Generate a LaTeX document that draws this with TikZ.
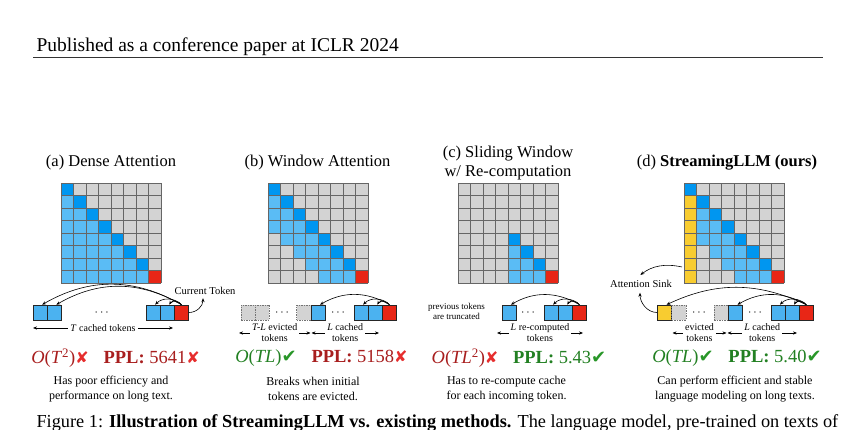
\documentclass[tikz,border=0pt]{standalone}
\usepackage{fontspec}
\setmainfont{Liberation Serif}
\newfontfamily\markfont{DejaVu Sans}
\usepackage{tikz}
\usetikzlibrary{arrows.meta}

\definecolor{attdark}{RGB}{0,150,240}
\definecolor{attlight}{RGB}{90,188,245}
\definecolor{attgray}{RGB}{211,211,211}
\definecolor{attred}{RGB}{232,38,22}
\definecolor{sinkyellow}{RGB}{248,204,48}
\definecolor{tokblue}{RGB}{75,178,240}
\definecolor{badred}{RGB}{168,30,30}
\definecolor{goodgreen}{RGB}{34,128,34}
\definecolor{xred}{RGB}{230,45,45}
\definecolor{vgreen}{RGB}{40,150,40}

\newcommand{\badmark}{{\markfont\fontsize{16}{16}\selectfont\color{xred}✘}}
\newcommand{\goodmark}{{\markfont\fontsize{18}{18}\selectfont\color{vgreen}✔}}

\begin{document}
\begin{tikzpicture}[x=1pt, y=1pt,
  tokbox/.style={draw=black!85, line width=0.6pt, minimum width=14.2pt, minimum height=15pt, inner sep=0pt, fill=tokblue},
  curbox/.style={tokbox, fill=attred},
  sinkbox/.style={tokbox, fill=sinkyellow},
  evictbox/.style={tokbox, fill=attgray, draw=black!55, dash pattern=on 1.5pt off 1pt},
  dotsnode/.style={font=\fontsize{12}{12}\selectfont},
  arcarrow/.style={-{Stealth[length=4pt,width=3.2pt]}, line width=0.6pt},
  spanarrow/.style={{Stealth[length=4pt,width=3.2pt]}-{Stealth[length=4pt,width=3.2pt]}, line width=0.6pt},
  spanlabel/.style={fill=white, inner xsep=2pt, inner ysep=0.5pt, align=center, font=\fontsize{10}{11}\selectfont},
  paneltitle/.style={anchor=base, font=\fontsize{16.5}{19}\selectfont},
  costline/.style={font=\fontsize{18.5}{20}\selectfont},
  descr/.style={align=center, font=\fontsize{12}{15.5}\selectfont},
  smalllab/.style={font=\fontsize{10.5}{11}\selectfont},
  gridln/.style={draw=black!60, line width=0.5pt}
]
\useasboundingbox (0,0) rectangle (850,430);

% page header
\node[anchor=base west, font=\fontsize{19.5}{20}\selectfont] (hdr) at (33,378) {Published as a conference paper at ICLR 2024};
\draw[line width=0.8pt, black!80] (33,372.5) -- (823,372.5);

% titles
\node[paneltitle] (ta) at (111,263) {(a) Dense Attention};
\node[paneltitle] (tb) at (317.5,263) {(b) Window Attention};
\node[paneltitle] (tc1) at (508,272) {(c) Sliding Window};
\node[paneltitle] (tc2) at (508,253) {w/ Re-computation};
\node[paneltitle] (td) at (727,263) {(d) \textbf{StreamingLLM (ours)}};

% attention maps
\foreach \gx in {61,268,458,684} \fill[attgray] (\gx,147) rectangle ++(100,100);
% (a) dense
\foreach \i in {1,...,7} \foreach \j in {1,...,\i} \fill[attlight] ({61+12.5*(\j-1)},{247-12.5*(\i+1)}) rectangle ++(12.5,12.5);
\foreach \i in {0,...,6} \fill[attdark] ({61+12.5*\i},{247-12.5*(\i+1)}) rectangle ++(12.5,12.5);
\fill[attred] (148.5,147) rectangle ++(12.5,12.5);
% (b) window
\foreach \i in {1,...,7} {
  \foreach \d in {1,2,3} {
    \pgfmathtruncatemacro{\jj}{\i-\d}
    \ifnum\jj>-1 \fill[attlight] ({268+12.5*\jj},{247-12.5*(\i+1)}) rectangle ++(12.5,12.5); \fi
  }
}
\foreach \i in {0,...,6} \fill[attdark] ({268+12.5*\i},{247-12.5*(\i+1)}) rectangle ++(12.5,12.5);
\fill[attred] (355.5,147) rectangle ++(12.5,12.5);
% (c) re-computation
\foreach \i/\j in {5/4,6/4,6/5,7/4,7/5,7/6} \fill[attlight] ({458+12.5*\j},{247-12.5*(\i+1)}) rectangle ++(12.5,12.5);
\foreach \i in {4,5,6} \fill[attdark] ({458+12.5*\i},{247-12.5*(\i+1)}) rectangle ++(12.5,12.5);
\fill[attred] (545.5,147) rectangle ++(12.5,12.5);
% (d) streamingllm
\foreach \i in {1,...,7} \fill[sinkyellow] (684,{247-12.5*(\i+1)}) rectangle ++(12.5,12.5);
\foreach \i in {2,...,7} {
  \foreach \d in {1,2,3} {
    \pgfmathtruncatemacro{\jj}{\i-\d}
    \ifnum\jj>0 \fill[attlight] ({684+12.5*\jj},{247-12.5*(\i+1)}) rectangle ++(12.5,12.5); \fi
  }
}
\foreach \i in {0,...,6} \fill[attdark] ({684+12.5*\i},{247-12.5*(\i+1)}) rectangle ++(12.5,12.5);
\fill[attred] (771.5,147) rectangle ++(12.5,12.5);
\foreach \gx in {61,268,458,684} {
  \foreach \k in {0,...,8} {
    \draw[gridln] ({\gx+12.5*\k},147) -- ++(0,100);
    \draw[gridln] (\gx,{147+12.5*\k}) -- ++(100,0);
  }
}

% (a) kv cache
\node[tokbox] (a1) at (40.1,117.5) {};
\node[tokbox] (a2) at (54.3,117.5) {};
\node[dotsnode] (adots) at (101.7,117.5) {$\cdots$};
\node[tokbox] (a3) at (153.1,117.5) {};
\node[tokbox] (a4) at (167.3,117.5) {};
\node[curbox] (acur) at (181.5,117.5) {};
\node[smalllab] (curlab) at (205,139) {Current Token};
\draw[arcarrow] (acur.north) to[bend right=30] ([xshift=2pt]a1.north);
\draw[arcarrow] (acur.north) to[bend right=30] ([xshift=2pt]a2.north);
\draw[arcarrow] (acur.north) to[bend right=45] ([xshift=2pt]a3.north);
\draw[arcarrow] (acur.north) to[bend right=60] ([xshift=2pt]a4.north);
\draw[arcarrow] (acur.east) to[out=0,in=-90] ([xshift=-2pt]curlab.south);
\coordinate (aL) at (33,102);
\coordinate (aR) at (173,102);
\draw[spanarrow] (aL) -- (aR) node[midway, spanlabel] {\textit{T} cached tokens};

% (b) kv cache
\node[evictbox] (b1) at (248.1,117.5) {};
\node[evictbox] (b2) at (262.3,117.5) {};
\node[dotsnode] (bdots1) at (282,117.5) {$\cdots$};
\node[evictbox] (b3) at (303.8,117.5) {};
\node[tokbox] (b4) at (318,117.5) {};
\node[dotsnode] (bdots2) at (338,117.5) {$\cdots$};
\node[tokbox] (b5) at (361.1,117.5) {};
\node[tokbox] (b6) at (375.3,117.5) {};
\node[curbox] (bcur) at (389.5,117.5) {};
\draw[arcarrow] (bcur.north) to[bend right=30] ([xshift=2pt]b4.north);
\draw[arcarrow] (bcur.north) to[bend right=45] ([xshift=2pt]b5.north);
\draw[arcarrow] (bcur.north) to[bend right=60] ([xshift=2pt]b6.north);
\coordinate (bL1) at (239,97);
\coordinate (bR1) at (310.5,97);
\coordinate (bL2) at (311.5,97);
\coordinate (bR2) at (379,97);
\draw[spanarrow] (bL1) -- (bR1) node[midway, spanlabel] {\textit{T-L} evicted\\tokens};
\draw[spanarrow] (bL2) -- (bR2) node[midway, spanlabel] {\textit{L} cached\\tokens};

% (c) kv cache
\node[align=center, font=\fontsize{9}{10}\selectfont] (trunc) at (456.5,118.5) {previous tokens\\are truncated};
\node[tokbox] (c1) at (508.9,117.5) {};
\node[dotsnode] (cdots) at (528,117.5) {$\cdots$};
\node[tokbox] (c2) at (551.1,117.5) {};
\node[tokbox] (c3) at (565.3,117.5) {};
\node[curbox] (ccur) at (579.5,117.5) {};
\draw[arcarrow] (ccur.north) to[bend right=30] ([xshift=2pt]c1.north);
\draw[arcarrow] (ccur.north) to[bend right=45] ([xshift=2pt]c2.north);
\draw[arcarrow] (ccur.north) to[bend right=60] ([xshift=2pt]c3.north);
\coordinate (cL) at (497,97);
\coordinate (cR) at (583,97);
\draw[spanarrow] (cL) -- (cR) node[midway, spanlabel] {\textit{L} re-computed\\tokens};

% (d) kv cache
\node[sinkbox] (d1) at (664.5,117.5) {};
\node[evictbox] (d2) at (678.7,117.5) {};
\node[dotsnode] (ddots1) at (699,117.5) {$\cdots$};
\node[evictbox] (d3) at (721.2,117.5) {};
\node[tokbox] (d4) at (735.4,117.5) {};
\node[dotsnode] (ddots2) at (755,117.5) {$\cdots$};
\node[tokbox] (d5) at (777.9,117.5) {};
\node[tokbox] (d6) at (792.1,117.5) {};
\node[curbox] (dcur) at (806.3,117.5) {};
\node[smalllab] (sink) at (641,146) {Attention Sink};
\coordinate (sinkcol) at (682,163);
\draw[arcarrow] (dcur.north) to[bend right=25] ([xshift=2pt]d1.north);
\draw[arcarrow] (dcur.north) to[bend right=30] ([xshift=2pt]d4.north);
\draw[arcarrow] (dcur.north) to[bend right=45] ([xshift=2pt]d5.north);
\draw[arcarrow] (dcur.north) to[bend right=60] ([xshift=2pt]d6.north);
\draw[arcarrow, shorten >=3pt] (sinkcol) to[bend right=25] ([xshift=-3pt]sink.north);
\draw[arcarrow, shorten >=1.5pt] (d1.west) to[out=180,in=-90] ([xshift=-1pt]sink.south);
\coordinate (dL1) at (672.5,97);
\coordinate (dR1) at (726.5,97);
\coordinate (dL2) at (727.5,97);
\coordinate (dR2) at (797,97);
\draw[spanarrow] (dL1) -- (dR1) node[midway, spanlabel] {evicted\\tokens};
\draw[spanarrow] (dL2) -- (dR2) node[midway, spanlabel] {\textit{L} cached\\tokens};

% cost and perplexity
\node[costline] (costa) at (115.5,72) {{\color{badred}\textit{O}(\textit{T}\textsuperscript{2})}\badmark\hspace{0.8em}{\color{badred}\textbf{PPL:} 5641}\badmark};
\node[costline] (costb) at (321.5,72) {{\color{goodgreen}\textit{O}(\textit{TL})}\goodmark\hspace{0.8em}{\color{badred}\textbf{PPL:} 5158}\badmark};
\node[costline] (costc) at (519,72) {{\color{badred}\textit{O}(\textit{TL}\textsuperscript{2})}\badmark\hspace{0.8em}{\color{goodgreen}\textbf{PPL:} 5.43}\goodmark};
\node[costline] (costd) at (737,72) {{\color{goodgreen}\textit{O}(\textit{TL})}\goodmark\hspace{0.8em}{\color{goodgreen}\textbf{PPL:} 5.40}\goodmark};

% notes
\node[descr] (desca) at (111,41) {Has poor efficiency and\\performance on long text.};
\node[descr] (descb) at (313,41) {Breaks when initial\\tokens are evicted.};
\node[descr] (descc) at (506.5,41) {Has to re-compute cache\\for each incoming token.};
\node[descr] (descd) at (735,41) {Can perform efficient and stable\\language modeling on long texts.};

% caption (cut by the page edge, as in the page it comes from)
\node[anchor=base west, font=\fontsize{18.3}{20}\selectfont] (cap) at (33,2) {Figure 1: \textbf{Illustration of StreamingLLM vs. existing methods.} The language model, pre-trained on texts of};
\end{tikzpicture}
\end{document}
